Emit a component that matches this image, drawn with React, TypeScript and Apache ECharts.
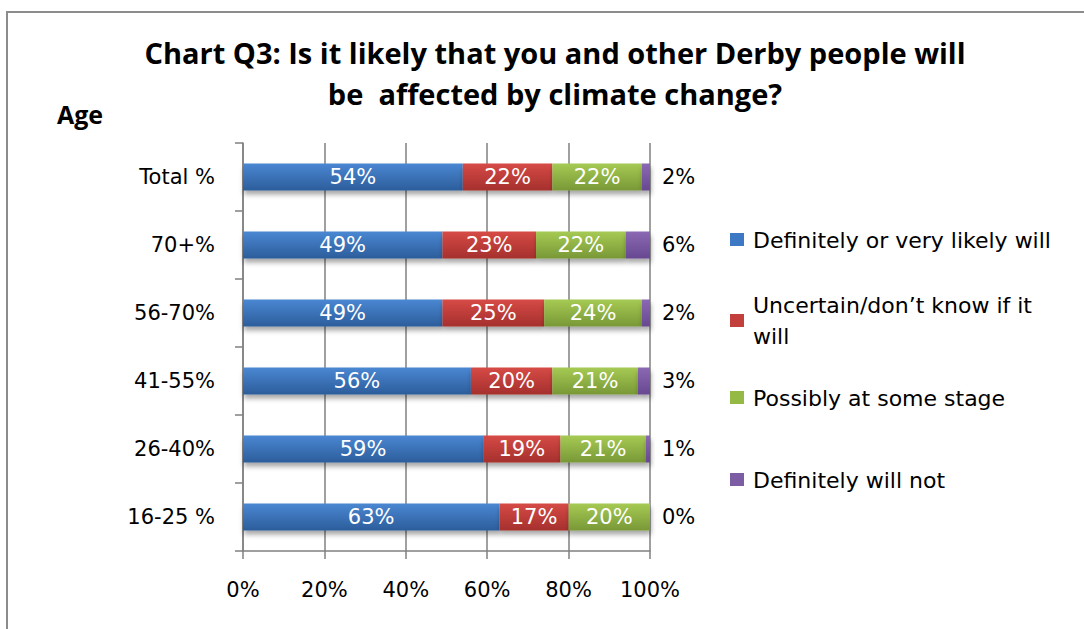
import React, { useEffect, useRef } from "react";
import * as echarts from "echarts";

const categories = ["Total %", "70+%", "56-70%", "41-55%", "26-40%", "16-25 %"];
const seriesNames = [
  "Definitely or very likely will",
  "Uncertain/don\u2019t know if it will",
  "Possibly at some stage",
  "Definitely will not",
];
const legendLabels = [
  "Definitely or very likely will",
  "Uncertain/don\u2019t know if it\nwill",
  "Possibly at some stage",
  "Definitely will not",
];
const definitely = [54, 49, 49, 56, 59, 63];
const uncertain = [22, 23, 25, 20, 19, 17];
const possibly = [22, 22, 24, 21, 21, 20];
const willNot = [2, 6, 2, 3, 1, 0];
const xTicks = [0, 20, 40, 60, 80, 100];

const FONT = "'DejaVu Sans', sans-serif";
const TFONT = "'Open Sans', sans-serif";
const colorPairs = [
  ["#4a87d2", "#2c5d9b"],
  ["#d64a46", "#a5302d"],
  ["#a6ca54", "#789836"],
  ["#8b69b2", "#674891"],
];
const solid = ["#3d78c4", "#c23f3c", "#94b945", "#7c5ca3"];

function grad(i: number) {
  return new echarts.graphic.LinearGradient(0, 0, 0, 1, [
    { offset: 0, color: colorPairs[i][0] },
    { offset: 1, color: colorPairs[i][1] },
  ]);
}

export default function App() {
  const ref = useRef<HTMLDivElement>(null);
  useEffect(() => {
    if (!ref.current) return;
    const chart = echarts.init(ref.current, null, { renderer: "svg" });
    const values = [definitely, uncertain, possibly, willNot];
    const legendY = [240, 321, 398, 480];
    const legendGraphics: any[] = [];
    seriesNames.forEach((n, i) => {
      legendGraphics.push({
        type: "rect",
        shape: { x: 730, y: legendY[i] - 7, width: 14, height: 13 },
        style: { fill: solid[i] },
      });
      legendGraphics.push({
        type: "text",
        x: 753,
        y: legendY[i],
        style: {
          text: legendLabels[i],
          fill: "#000",
          font: `22px ${FONT}`,
          textVerticalAlign: "middle",
          lineHeight: 31,
        },
      });
    });
    chart.setOption({
      animation: false,
      backgroundColor: "#fff",
      grid: { left: 243, right: 434, top: 143, bottom: 78 },
      xAxis: {
        type: "value",
        min: 0,
        max: 100,
        interval: 20,
        axisLine: { show: true, lineStyle: { color: "#808080", width: 1.5 } },
        axisTick: { show: true, length: 8, lineStyle: { color: "#808080", width: 1.5 } },
        splitLine: { show: true, lineStyle: { color: "#808080", width: 1.5 } },
        axisLabel: {
          formatter: (v: number) => (xTicks.includes(v) ? v + "%" : ""),
          color: "#000",
          fontFamily: FONT,
          fontSize: 21,
          margin: 28,
        },
      },
      yAxis: {
        type: "category",
        data: categories,
        inverse: true,
        axisLine: { show: true, lineStyle: { color: "#808080", width: 1.5 } },
        axisTick: { show: true, length: 8, lineStyle: { color: "#808080", width: 1.5 } },
        axisLabel: {
          color: "#000",
          fontFamily: FONT,
          fontSize: 21,
          margin: 28,
        },
      },
      series: seriesNames.map((name, i) => ({
        name,
        type: "bar",
        stack: "total",
        barWidth: 27,
        data: values[i],
        itemStyle: {
          color: grad(i),
          shadowColor: "rgba(0,0,0,0.35)",
          shadowBlur: 5,
          shadowOffsetY: 4,
          shadowOffsetX: 1,
        },
        label: {
          show: true,
          position: i === 3 ? "right" : "inside",
          distance: 12,
          formatter: "{c}%",
          color: i === 3 ? "#000" : "#fff",
          fontFamily: FONT,
          fontSize: 21,
        },
      })),
      graphic: [
        {
          type: "rect",
          shape: { x: 7, y: 12, width: 1100, height: 640 },
          style: { fill: "none", stroke: "#8c8c8c", lineWidth: 2 },
          silent: true,
        },
        {
          type: "text",
          x: 555,
          y: 52,
          style: {
            text: "Chart Q3: Is it likely that you and other Derby people will",
            fill: "#000",
            font: `bold 29px ${TFONT}`,
            textAlign: "center",
            textVerticalAlign: "middle",
          },
        },
        {
          type: "text",
          x: 555,
          y: 93,
          style: {
            text: "be  affected by climate change?",
            fill: "#000",
            font: `bold 29px ${TFONT}`,
            textAlign: "center",
            textVerticalAlign: "middle",
          },
        },
        {
          type: "text",
          x: 57,
          y: 114,
          style: {
            text: "Age",
            fill: "#000",
            font: `bold 25px ${TFONT}`,
            textVerticalAlign: "middle",
          },
        },
        ...legendGraphics,
      ],
    });
    return () => chart.dispose();
  }, []);
  return (
    <div
      ref={ref}
      style={{ position: "absolute", left: 0, top: 0, width: 1084, height: 629 }}
    />
  );
}
